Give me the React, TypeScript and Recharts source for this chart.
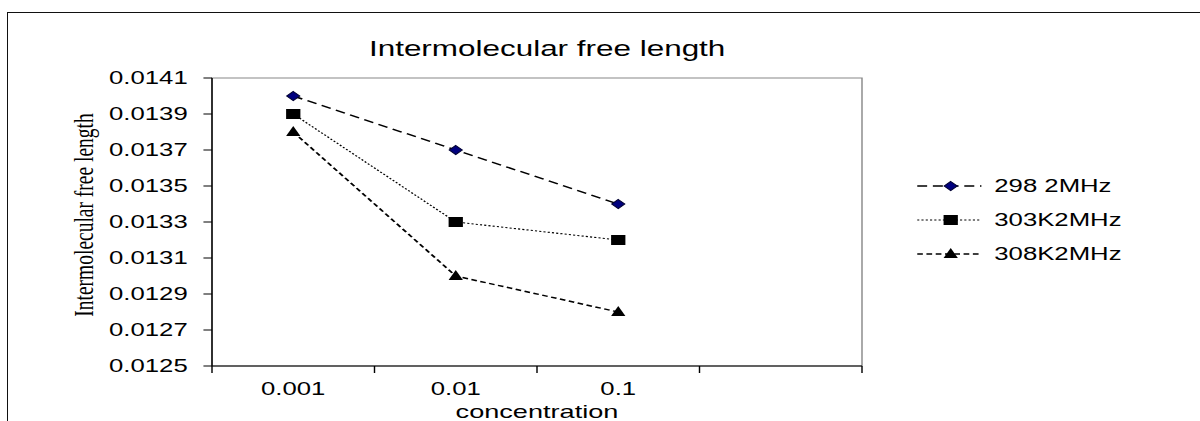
import { LineChart, Line, XAxis, YAxis, Legend, ReferenceArea } from "recharts";

// values
const categories = ["0.001", "0.01", "0.1", ""];
const k298 = [0.014, 0.0137, 0.0134, null];
const k303 = [0.0139, 0.0133, 0.0132, null];
const k308 = [0.0138, 0.013, 0.0128, null];
const yTicks = [0.0125, 0.0127, 0.0129, 0.0131, 0.0133, 0.0135, 0.0137, 0.0139, 0.0141];
const seriesNames = ["298 2MHz", "303K2MHz", "308K2MHz"];

const data = categories.map((c, i) => ({
    conc: c,
    k298: k298[i],
    k303: k303[i],
    k308: k308[i],
}));

// the reference image is stretched horizontally, so the chart is drawn narrow and scaled in x
const W = 840;
const H = 421;
const SX = 1200 / W;
const PLOT_LEFT = 148.4;
const PLOT_RIGHT = 603.4;
const PLOT_TOP = 78;
const PLOT_BOTTOM = 366;
const PLOT_W = PLOT_RIGHT - PLOT_LEFT;
const SANS = "'Liberation Sans', Arial, sans-serif";

const Diamond = ({ cx, cy }: any) => (
    <polygon
        points={`${cx},${cy - 4.5} ${cx + 4.5},${cy} ${cx},${cy + 4.5} ${cx - 4.5},${cy}`}
        fill="#00007f"
        stroke="#000033"
        strokeWidth={1}
    />
);
const Square = ({ cx, cy }: any) => <rect x={cx - 5} y={cy - 5} width={10} height={10} fill="#000" />;
const Triangle = ({ cx, cy }: any) => (
    <polygon points={`${cx},${cy - 6} ${cx + 5},${cy + 4} ${cx - 5},${cy + 4}`} fill="#000" />
);

const styles: Record<string, { dash: string; width: number; Marker: any }> = {
    "298 2MHz": { dash: "7 4", width: 1.4, Marker: Diamond },
    "303K2MHz": { dash: "1.5 1.5", width: 1.1, Marker: Square },
    "308K2MHz": { dash: "4 2.5", width: 1.5, Marker: Triangle },
};

const makeDot = (Marker: any) => (props: any) => {
    const { cx, cy, index } = props;
    if (cy == null || cx == null || Number.isNaN(cy)) return <g key={`d${index}`} />;
    return <Marker key={`d${index}`} cx={cx} cy={cy} />;
};

const XTick = (props: any) => {
    const { x, payload, index } = props;
    const half = PLOT_W / categories.length / 2;
    return (
        <g>
            <line x1={x - half} x2={x - half} y1={PLOT_BOTTOM} y2={PLOT_BOTTOM + 7} stroke="#000" />
            {index === categories.length - 1 && (
                <line x1={x + half} x2={x + half} y1={PLOT_BOTTOM} y2={PLOT_BOTTOM + 7} stroke="#000" />
            )}
            <text x={x} y={PLOT_BOTTOM + 16} dy="0.71em" textAnchor="middle" fill="#000" fontSize={18} fontFamily={SANS}>
                {payload.value}
            </text>
        </g>
    );
};

const LegendBox = ({ payload }: any) => (
    <div style={{ fontFamily: SANS, fontSize: 18, color: "#000" }}>
        {(payload || []).map((p: any) => {
            const st = styles[p.value];
            if (!st) return null;
            const M = st.Marker;
            return (
                <div key={p.value} style={{ display: "flex", alignItems: "center", height: 34 }}>
                    <svg width={46} height={20}>
                        <line x1={0} x2={45} y1={10} y2={10} stroke="#000" strokeWidth={st.width} strokeDasharray={st.dash} />
                        <M cx={23.5} cy={10} />
                    </svg>
                    <span style={{ marginLeft: 8 }}>{p.value}</span>
                </div>
            );
        })}
    </div>
);

export default function App() {
    return (
        <div style={{ position: "absolute", left: 0, top: 0, width: 1200, height: 421, overflow: "hidden", background: "#fff" }}>
            <div
                style={{
                    position: "absolute",
                    left: 7,
                    top: 12,
                    width: 1193,
                    height: 409,
                    boxSizing: "border-box",
                    borderTop: "1px solid #111",
                    borderLeft: "1.5px solid #111",
                }}
            />
            <div style={{ position: "absolute", left: 0, top: 0, width: W, height: H, transform: `scaleX(${SX})`, transformOrigin: "0 0" }}>
                <div
                    style={{
                        position: "absolute",
                        left: 183,
                        top: 38,
                        width: 400,
                        textAlign: "center",
                        fontFamily: SANS,
                        fontSize: 22,
                        lineHeight: "22px",
                        color: "#000",
                    }}
                >
                    Intermolecular free length
                </div>
                <LineChart width={W} height={H} data={data} margin={{ top: PLOT_TOP, right: W - PLOT_RIGHT, bottom: 5, left: 0 }}>
                    <ReferenceArea y1={0.0125} y2={0.0141} fill="none" stroke="#888" strokeWidth={1} ifOverflow="visible" />
                    <XAxis
                        dataKey="conc"
                        scale="band"
                        height={H - PLOT_BOTTOM - 5}
                        stroke="#000"
                        tickLine={false}
                        tick={<XTick />}
                        interval={0}
                        label={{
                            content: ({ viewBox }: any) => (
                                <text
                                    x={viewBox.x + viewBox.width / 2}
                                    y={418}
                                    textAnchor="middle"
                                    fill="#000"
                                    fontSize={19}
                                    fontFamily={SANS}
                                >
                                    concentration
                                </text>
                            ),
                        }}
                    />
                    <YAxis
                        domain={[0.0125, 0.0141]}
                        ticks={yTicks}
                        width={PLOT_LEFT}
                        stroke="#000"
                        tickSize={6}
                        tickMargin={11}
                        tick={{ fill: "#000", fontSize: 18, fontFamily: SANS }}
                        tickFormatter={(v: number) => v.toFixed(4)}
                        interval={0}
                        label={{
                            content: () => (
                                <text
                                    x={58.8}
                                    y={215}
                                    transform="rotate(-90, 58.8, 215)"
                                    textAnchor="middle"
                                    dominantBaseline="central"
                                    fill="#000"
                                    fontSize={19.5}
                                    fontFamily="'Liberation Serif', 'Times New Roman', serif"
                                >
                                    Intermolecular free length
                                </text>
                            ),
                        }}
                    />
                    <Legend
                        layout="vertical"
                        align="center"
                        verticalAlign="middle"
                        wrapperStyle={{ left: 642, top: 169, width: 190 }}
                        content={<LegendBox />}
                    />
                    {[
                        { key: "k298", name: seriesNames[0] },
                        { key: "k303", name: seriesNames[1] },
                        { key: "k308", name: seriesNames[2] },
                    ].map((s) => (
                        <Line
                            key={s.key}
                            dataKey={s.key}
                            name={s.name}
                            type="linear"
                            stroke="#000"
                            strokeWidth={styles[s.name].width}
                            strokeDasharray={styles[s.name].dash}
                            dot={makeDot(styles[s.name].Marker)}
                            activeDot={false}
                            isAnimationActive={false}
                        />
                    ))}
                </LineChart>
            </div>
        </div>
    );
}
